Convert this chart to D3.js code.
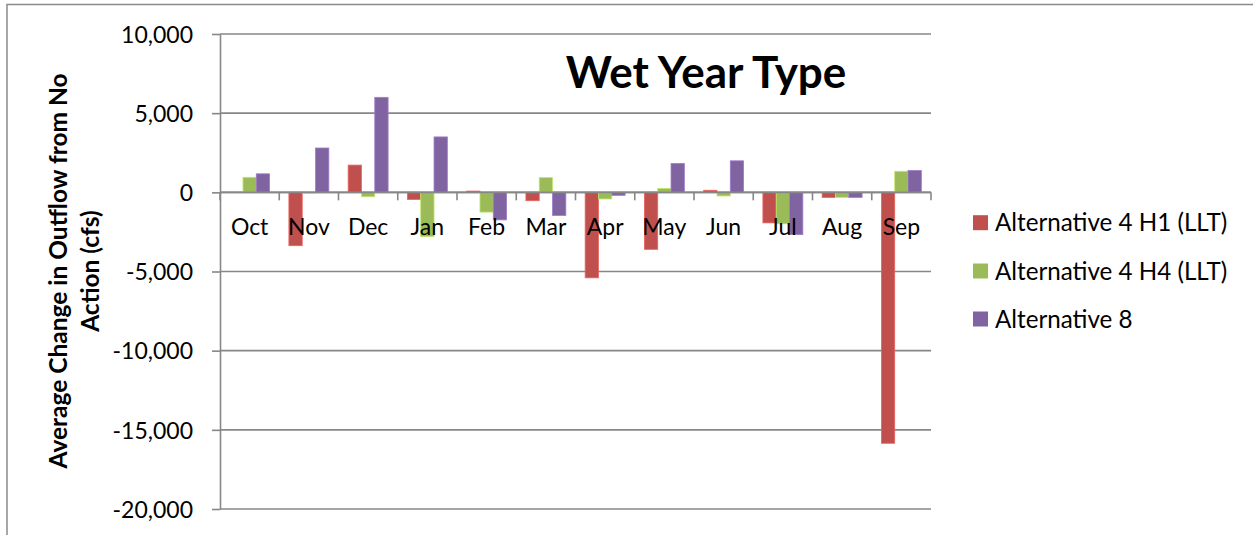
<!DOCTYPE html>
<html>
<head>
<meta charset="utf-8">
<script src="https://cdn.jsdelivr.net/npm/d3@7"></script>
<style>
  html, body { margin: 0; padding: 0; background: #fff; }
  svg { display: block; font-family: Lato, "Open Sans", sans-serif; }
</style>
</head>
<body>
<svg id="chart" width="1253" height="535"></svg>
<script>
const months = ["Oct","Nov","Dec","Jan","Feb","Mar","Apr","May","Jun","Jul","Aug","Sep"];
const seriesNames = ["Alternative 4 H1 (LLT)", "Alternative 4 H4 (LLT)", "Alternative 8"];
const alt4H1 = [0, -3370, 1720, -450, 80, -530, -5400, -3600, 130, -1930, -320, -15850];
const alt4H4 = [950, -50, -280, -2800, -1250, 930, -420, 250, -230, -1990, -320, 1330];
const alt8   = [1170, 2800, 6000, 3500, -1740, -1460, -190, 1820, 1990, -2670, -320, 1380];
const yTicks = [10000, 5000, 0, -5000, -10000, -15000, -20000];
const colors = ["#C0504D", "#9BBB59", "#8064A2"];
const title = "Wet Year Type";
const yTitleLines = ["Average Change in Outflow from No", "Action (cfs)"];

const seriesValues = [alt4H1, alt4H4, alt8];
const svg = d3.select("#chart");

const plot = { left: 220, right: 931, top: 34, bottom: 509 };

// chart border (left & top visible)
svg.append("rect")
  .attr("x", 7).attr("y", 4.5)
  .attr("width", 1260).attr("height", 560)
  .attr("fill", "none").attr("stroke", "#8a8a8a").attr("stroke-width", 1.5);

const y = d3.scaleLinear().domain([-20000, 10000]).range([plot.bottom, plot.top]);
const x0 = d3.scaleBand().domain(months).range([plot.left, plot.right]).padding(0);
const gapRatio = 1.45;
const barW = x0.bandwidth() / (3 + gapRatio);
const x1 = d3.scaleBand().domain(seriesNames)
  .range([barW * gapRatio / 2, x0.bandwidth() - barW * gapRatio / 2]).padding(0);

const gridColor = "#878787";

// gridlines
svg.append("g")
  .selectAll("line").data(yTicks).join("line")
  .attr("x1", plot.left).attr("x2", plot.right)
  .attr("y1", d => y(d)).attr("y2", d => y(d))
  .attr("stroke", gridColor).attr("stroke-width", 1.6);

// bars
const rows = months.map((m, i) => ({ month: m, vals: seriesNames.map((s, j) => ({ s, j, v: seriesValues[j][i] })) }));
svg.append("g").selectAll("g").data(rows).join("g")
  .attr("transform", d => `translate(${x0(d.month)},0)`)
  .selectAll("rect").data(d => d.vals).join("rect")
  .attr("x", d => x1(d.s))
  .attr("width", x1.bandwidth())
  .attr("y", d => Math.min(y(d.v), y(0)))
  .attr("height", d => Math.abs(y(d.v) - y(0)))
  .attr("fill", d => colors[d.j])
  .attr("stroke", d => d3.color(colors[d.j]).brighter(0.6))
  .attr("stroke-width", 0.8);

// y axis
const fmt = d3.format(",");
const yAxis = d3.axisLeft(y).tickValues(yTicks).tickSize(8).tickSizeOuter(0)
  .tickFormat(d => fmt(d).replace("\u2212", "-"))
  .tickPadding(19);
const gy = svg.append("g").attr("transform", `translate(${plot.left},0)`).call(yAxis);
gy.select(".domain").attr("stroke", gridColor).attr("stroke-width", 1.6);
gy.selectAll(".tick line").attr("stroke", gridColor).attr("stroke-width", 1.6);
gy.selectAll(".tick text").attr("font-size", 23).attr("fill", "#000")
  .attr("font-family", "Lato, 'Open Sans', sans-serif").attr("dy", "0.36em");

// category axis at zero
const gx = svg.append("g").attr("transform", `translate(0,${y(0)})`);
gx.append("line").attr("x1", plot.left).attr("x2", plot.right)
  .attr("stroke", gridColor).attr("stroke-width", 1.6);
const boundaries = months.map(m => x0(m)).concat([plot.right]);
gx.selectAll("line.tk").data(boundaries).join("line").attr("class", "tk")
  .attr("x1", d => d).attr("x2", d => d).attr("y1", 0).attr("y2", 8)
  .attr("stroke", gridColor).attr("stroke-width", 1.6);
gx.selectAll("text").data(months).join("text")
  .attr("x", d => x0(d) + x0.bandwidth() / 2)
  .attr("y", 43)
  .attr("text-anchor", "middle")
  .attr("font-size", 23)
  .attr("fill", "#000")
  .text(d => d);

// title
svg.append("text")
  .attr("x", 706).attr("y", 88)
  .attr("text-anchor", "middle")
  .attr("font-size", 44).attr("font-weight", "bold")
  .attr("fill", "#000")
  .text(title);

// y axis title
const yt = svg.append("text")
  .attr("transform", "translate(0,271) rotate(-90)")
  .attr("text-anchor", "middle")
  .attr("font-size", 24.5).attr("font-weight", "bold").attr("fill", "#000");
yt.selectAll("tspan").data(yTitleLines).join("tspan")
  .attr("x", 0).attr("y", (d, i) => 67 + i * 32)
  .text(d => d);

// legend
const lg = svg.append("g");
const legendY = [222.7, 271, 319];
seriesNames.forEach((s, i) => {
  lg.append("rect").attr("x", 973).attr("y", legendY[i] - 7.5)
    .attr("width", 15).attr("height", 15).attr("fill", colors[i]);
  lg.append("text").attr("x", 995).attr("y", legendY[i])
    .attr("dy", "0.36em").attr("font-size", 24.2).attr("fill", "#000").text(s);
});
</script>
</body>
</html>
